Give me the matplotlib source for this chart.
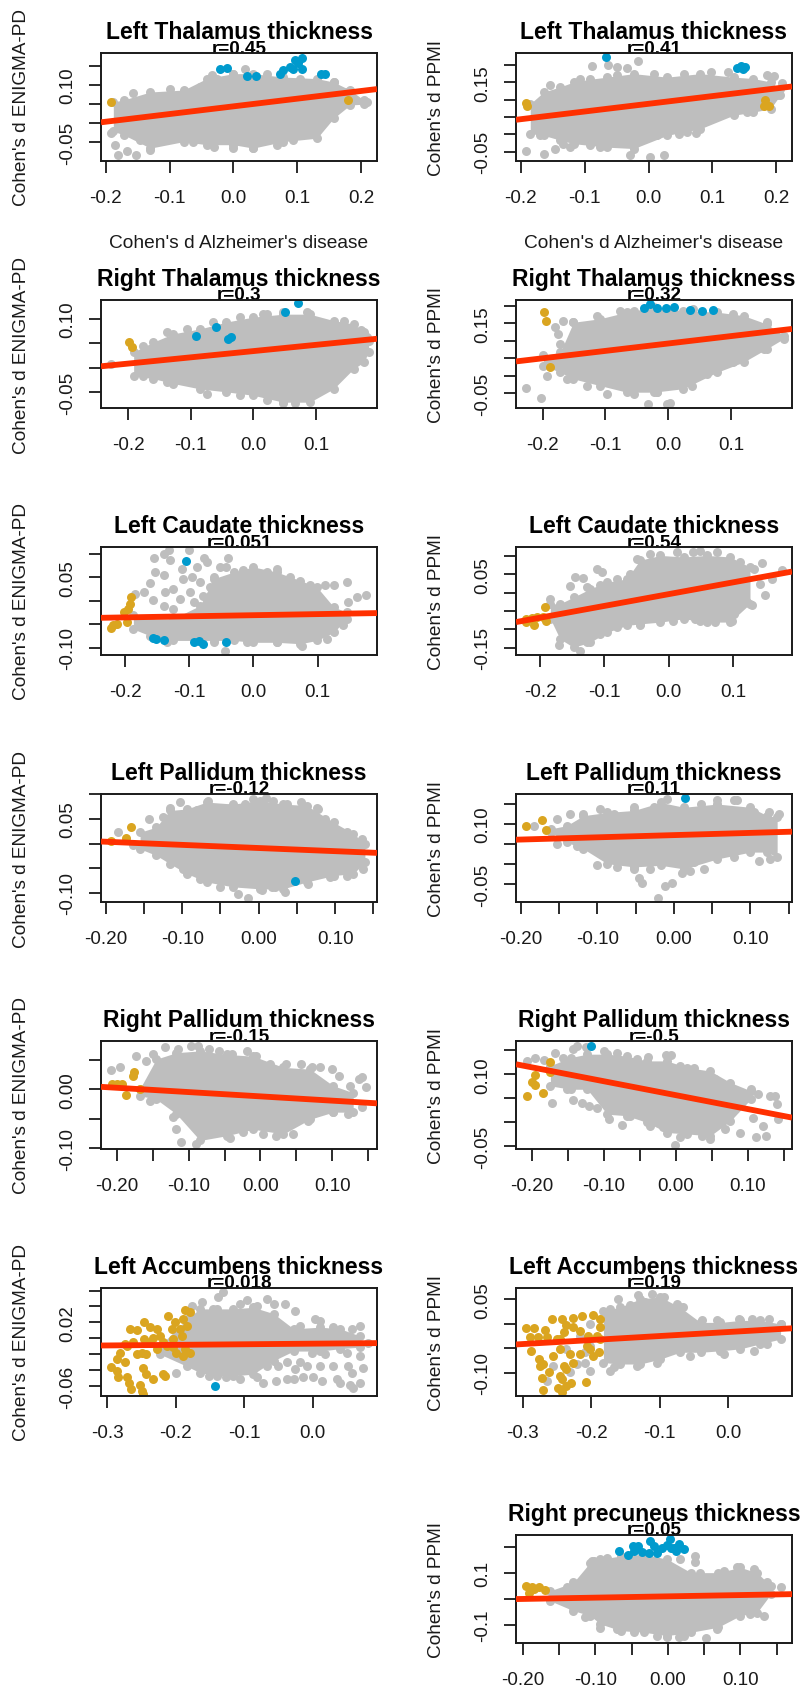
import matplotlib
matplotlib.use("Agg")
import matplotlib.pyplot as plt

# row 1 left: Left Thalamus, ENIGMA-PD
l1_cloud_x = [-.188, -.172, -.13, -.078, -.042, 0, .031, .078, .131, .157, .183, .205]
l1_cloud_top = [.056, .061, .082, .087, .117, .130, .130, .121, .117, .108, .087, .060]
l1_cloud_bot = [-.021, -.030, -.065, -.048, -.056, -.056, -.065, -.048, -.039, .013, .048, .050]
l1_gray_x = [-.185, -.181, -.167, -.153, -.034, .018, .209, -.191,
             -.157, -.099, -.052, -.026, 0, .052, .104, .157, .178, -.146, -.131, -.063, -.031, 0, .031, .068, .094, .131]
l1_gray_y = [-.057, -.084, -.072, -.084, .126, .143, .055, -.026,
             .078, .091, .096, .117, .130, .130, .117, .109, .083, -.043, -.070, -.048, -.061, -.065, -.065, -.057, -.043, -.017]
l1_blue_x = [-.021, -.010, .021, .036, .073, .078, .089, .097, .107, .107, .094, .138, .144, .102]
l1_blue_y = [.141, .144, .123, .123, .130, .139, .148, .165, .171, .143, .143, .130, .130, .157]
l1_gold_x = [-.191, .179]
l1_gold_y = [.055, .060]
l1_line = [.0026, .0896]

# row 1 right: Left Thalamus, PPMI
r1_cloud_x = [-.185, -.164, -.138, -.117, -.091, -.065, -.023, .029, .081, .133, .164, .191, .206]
r1_cloud_top = [.088, .122, .137, .151, .159, .165, .175, .165, .175, .165, .161, .151, .130]
r1_cloud_bot = [.002, -.003, -.017, -.027, -.032, -.037, -.041, -.003, .016, .055, .064, .074, .113]
r1_gray_x = [-.192, -.163, -.146, -.123, -.088, -.063, -.050, -.034, -.016, -.029, .003, .025, .047, .061, .074, .201, .209, .196,
             -.154, -.107, -.050, .008, .055, .097, .125, .185, -.170, -.133, -.076, -.023, .013, .060, .112, .154]
r1_gray_y = [-.047, -.056, -.041, -.037, .196, .201, .194, .191, .211, -.061, -.065, -.059, 0, .007, .005, .113, .149, .168,
             .141, .161, .170, .175, .175, .180, .180, .170, -.003, -.027, -.037, -.032, -.003, .021, .055, .064]
r1_blue_x = [-.067, .138, .144, .151, .148]
r1_blue_y = [.222, .192, .196, .194, .189]
r1_gold_x = [-.192, -.190, .180, .188, .183]
r1_gold_y = [.091, .082, .081, .081, .098]
r1_line = [.042, .138]

# row 2 left: Right Thalamus, ENIGMA-PD
l2_cloud_x = [-.191, -.160, -.128, -.085, -.043, 0, .048, .090, .128, .160, .176, .184]
l2_cloud_top = [.032, .052, .069, .079, .093, .103, .109, .109, .096, .089, .072, .055]
l2_cloud_bot = [-.016, -.022, -.032, -.043, -.049, -.056, -.070, -.070, -.043, -.002, .011, .032]
l2_gray_x = [-.227, .016, .048, .171, .181,
             -.176, -.138, -.106, -.064, -.021, .021, .085, .144, -.176, -.138, -.074, -.021, .021, .048, .066, .106]
l2_gray_y = [.008, .109, .114, .076, .062,
             .045, .072, .079, .093, .103, .109, .113, .096, -.016, -.029, -.053, -.056, -.066, -.071, -.071, -.029]
l2_blue_x = [.072, .051, -.060, -.040, -.035, -.091]
l2_blue_y = [.131, .114, .082, .059, .062, .064]
l2_gold_x = [-.198, -.194]
l2_gold_y = [.052, .043]
l2_line = [.003, .059]

# row 2 right: Right Thalamus, PPMI
r2_cloud_x = [-.199, -.172, -.151, -.109, -.066, -.023, .024, .078, .120, .157, .184]
r2_cloud_top = [.058, .067, .153, .163, .182, .196, .186, .182, .172, .148, .115]
r2_cloud_bot = [.029, .010, -.009, -.028, -.047, -.047, -.037, .010, .039, .077, .106]
r2_gray_x = [-.227, -.202, -.193, -.167, -.180, -.175, -.172, -.002, .003, -.033, .038, -.018,
             -.151, -.114, -.077, -.055, .040, .104, .157, -.162, -.130, -.098, -.055, -.018, .024, .062, .104, .152]
r2_gray_y = [-.035, -.063, 0, .158, .139, .120, .091, -.080, -.077, -.080, -.029, -.047,
             .153, .172, .186, .186, .191, .177, .153, -.009, -.028, -.051, -.051, -.047, -.018, .006, .039, .077]
r2_blue_x = [-.039, -.029, -.018, -.003, .009, .035, .054, .072]
r2_blue_y = [.193, .205, .193, .193, .196, .189, .186, .188]
r2_gold_x = [-.198, -.194, -.188]
r2_gold_y = [.182, .156, .025]
r2_line = [.041, .134]

# row 3 left: Left Caudate, ENIGMA-PD
l3_cloud_x = [-.187, -.161, -.125, -.083, -.062, -.031, 0, .036, .073, .099, .125, .145]
l3_cloud_top = [-.031, -.038, -.038, -.010, .047, .061, .072, .061, .043, .029, -.013, -.024]
l3_cloud_bot = [-.060, -.074, -.084, -.084, -.084, -.084, -.088, -.088, -.091, -.084, -.067, -.038]
l3_gray_x = [-.155, -.140, -.132, -.101, -.130, -.077, -.073, -.039, -.052, -.112, -.088, -.153, -.140, -.161, -.109, -.096,
             -.125, -.138, -.171, -.184, -.156, -.140, -.125, -.099, -.078, -.114, -.083, -.067, -.093, .112, .125, .145, .161, .176, .148, -.044,
             -.062, -.042, -.016, .021, .036, .057, .088, -.135, -.062, -.010, .036, .075, .114, .140]
l3_gray_y = [.091, .100, .107, .107, .086, .091, .082, .091, .072, .067, .072, .061, .054, .038, .047, .050,
             .026, .018, .018, .015, .001, -.010, -.017, .018, .011, .004, .040, .029, -.003, .033, .033, .040, .008, .013, -.003, -.106,
             .050, .072, .065, .061, .068, .050, .033, -.088, -.088, -.088, -.088, -.095, -.081, -.052]
l3_blue_x = [-.105, -.156, -.151, -.140, -.093, -.085, -.078, -.042]
l3_blue_y = [.085, -.079, -.081, -.084, -.088, -.086, -.091, -.088]
l3_gold_x = [-.190, -.193, -.195, -.201, -.218, -.213, -.197, -.222]
l3_gold_y = [.008, -.006, -.017, -.024, -.052, -.049, -.045, -.057]
l3_line = [-.036, -.026]

# row 3 right: Left Caudate, PPMI
r3_cloud_x = [-.184, -.169, -.148, -.122, -.096, -.065, -.045, -.013, .023, .059, .095, .126]
r3_cloud_top = [-.030, -.030, -.012, .011, .029, .038, .089, .102, .098, .102, .098, .070]
r3_cloud_bot = [-.071, -.126, -.149, -.135, -.108, -.089, -.085, -.080, -.071, -.080, -.080, -.030]
r3_gray_x = [-.112, -.104, -.146, -.133, -.154, -.170, -.138, -.184, .038, .049, .145, .160, .150, .129, .098, .072, .041, .176, .142,
             -.127, -.107, -.081, -.060, -.050, -.029, .012, .075, .111, .132, -.164, -.148, -.127, -.107, -.081, -.045, .007, .049, .101, .121]
r3_gray_y = [.064, .057, .043, .041, .018, -.142, -.158, -.018, .111, .114, .082, .038, -.007, -.033, -.076, -.080, -.071, .061, .025,
             .016, .020, .038, .052, .093, .107, .111, .111, .084, .066, -.089, -.126, -.135, -.112, -.094, -.089, -.076, -.076, -.058, -.026]
r3_blue_x = []
r3_blue_y = []
r3_gold_x = [-.221, -.213, -.205, -.210, -.195, -.192, -.190, -.222]
r3_gold_y = [-.080, -.069, -.067, -.089, -.067, -.039, -.076, -.071]
r3_line = [-.080, .058]

# row 4 left: Left Pallidum, ENIGMA-PD
l4_cloud_x = [-.155, -.134, -.116, -.094, -.068, -.033, .002, .032, .063, .098, .124, .139]
l4_cloud_top = [.023, .033, .067, .070, .084, .080, .087, .080, .077, .043, .020, -.001]
l4_cloud_bot = [-.011, -.024, -.041, -.061, -.078, -.088, -.092, -.092, -.078, -.065, -.061, -.038]
l4_gray_x = [-.184, -.164, -.143, -.125, -.066, -.007, .010, .076, -.014, -.027, .004, .034, .021,
             -.116, -.103, -.081, -.053, -.037, -.018, .019, .037, .056, .078, .087, .115, .135,
             -.099, -.077, -.051, -.018, .017, .065, .093, .115, .137]
l4_gray_y = [.024, -.004, .050, .053, .087, .090, .092, .073, -.111, -.102, -.095, -.098, -.088,
             .073, .084, .067, .070, .073, .080, .087, .080, .084, .070, .050, .023, .009,
             -.051, -.071, -.088, -.078, -.088, -.082, -.068, -.065, -.051]
l4_blue_x = [.048]
l4_blue_y = [-.076]
l4_gold_x = [-.167, -.173, -.193]
l4_gold_y = [.034, .011, .006]
l4_line = [.004, -.019]

# row 4 right: Left Pallidum, PPMI
r4_cloud_x = [-.161, -.140, -.118, -.087, -.052, -.017, .013, .057, .100, .122, .135]
r4_cloud_top = [.088, .096, .121, .129, .134, .154, .142, .150, .142, .121, .117]
r4_cloud_bot = [.080, .055, .038, .001, -.007, -.003, -.012, .013, .030, .030, .017]
r4_gray_x = [-.183, -.135, -.100, -.052, -.046, -.041, -.011, -.002, -.020, .011, .021, .040, .111, .137, .124, .078, -.009,
             -.153, -.118, -.096, -.078, -.052, -.026, .035, .057, .083, .105, -.153, -.126, -.074, -.031, .026, .078, .126]
r4_gray_y = [.095, .125, -.003, -.012, -.035, -.046, -.055, -.046, -.084, -.022, -.016, -.012, .007, .125, .129, .159, .163,
             .113, .125, .138, .125, .142, .142, .150, .159, .159, .129, .051, .046, -.007, -.012, .005, .017, .013]
r4_blue_x = [.014]
r4_blue_y = [.164]
r4_gold_x = [-.193, -.172, -.167]
r4_gold_y = [.096, .110, .086]
r4_line = [.061, .081]

# row 5 left: Right Pallidum, ENIGMA-PD
l5_cloud_x = [-.168, -.145, -.117, -.084, -.047, -.010, .032, .069, .101, .129]
l5_cloud_top = [0, .051, .062, .065, .059, .056, .037, .034, .006, -.006]
l5_cloud_bot = [-.011, -.017, -.042, -.087, -.079, -.068, -.076, -.051, -.039, -.039]
l5_gray_x = [-.208, -.196, -.173, -.149, -.133, -.115, -.087, -.057, -.019, .083, .100, .109, .124, .137, .141, .147, .094, .087, .122, .101, -.089, -.110, .045, -.122, .141,
             -.159, -.096, -.071, -.040, -.006, .013, .036, .057, .071, -.154, -.117, -.066, -.043, -.024, .004, .022, .066]
l5_gray_y = [.032, .037, .056, .059, .071, .069, .073, .065, .065, .037, .034, .023, .005, .017, .021, .004, .002, -.017, -.042, -.039, -.093, -.090, -.076, -.048, -.031,
             .048, .073, .069, .059, .056, .042, .042, .042, .037, -.020, -.068, -.071, -.082, -.073, -.076, -.079, -.054]
l5_blue_x = []
l5_blue_y = []
l5_gold_x = [-.176, -.177, -.207, -.200, -.193, -.187, -.168]
l5_gold_y = [.030, .023, .008, .008, .008, -.010, .001]
l5_line = [.004, -.024]

# row 5 right: Right Pallidum, PPMI
r5_cloud_x = [-.174, -.146, -.123, -.095, -.068, -.040, -.012, .016, .048, .076, .104]
r5_cloud_top = [.118, .135, .142, .142, .138, .128, .128, .114, .107, .083, .066]
r5_cloud_bot = [.076, .069, .069, .017, .014, 0, -.021, -.024, -.028, .003, .048]
r5_gray_x = [-.207, -.195, -.183, -.167, -.142, -.137, -.172, -.142, -.130, -.121, -.075, -.0005, -.038, -.014,
             .088, .104, .115, .131, .138, .141, .142, .111, .125, .122, .108, .090, .069,
             -.156, -.125, -.100, -.081, -.054, -.007, .006, .025, .055, .074,
             -.151, -.109, -.093, -.063, -.035, -.017, .006, .037, .048]
r5_gray_y = [.128, .133, .129, .144, .152, .160, .041, .046, .040, .035, -.006, -.046, .137, .140,
             .062, .069, .059, .055, .055, .038, .007, -.031, -.028, -.007, .010, -.021, -.014,
             .135, .156, .149, .145, .131, .140, .118, .114, .090, .076,
             .069, .031, .007, .014, -.007, -.010, -.031, -.028, -.035]
r5_blue_x = [-.117]
r5_blue_y = [.159]
r5_gold_x = [-.174, -.195, -.199, -.195, -.184, -.206, -.174]
r5_gold_y = [.126, .098, .084, .077, .061, .054, .104]
r5_line = [.121, .010]

# row 6 left: Left Accumbens, ENIGMA-PD
l6_cloud_x = [-.223, -.184, -.165, -.140, -.116, -.087, -.057, -.028, .011, .040, .069]
l6_cloud_top = [-.009, .024, .037, .037, .037, .039, .031, .012, .014, .012, .003]
l6_cloud_bot = [-.020, -.035, -.043, -.047, -.047, -.045, -.028, -.016, -.016, -.013, -.011]
l6_gray_x = [-.162, -.131, -.138, -.096, -.067, -.040, -.026, .003, .011, .069, .081, -.082, -.072, -.053, -.038, -.026, -.028, -.014, .001, .011,
             .018, .030, .013, .035, .040, .052, .057, .055, .059, .069, .074, .069, .050, -.019, -.038, -.009, -.050, -.001, -.199, -.152,
             -.177, -.145, -.106, -.082, -.057, -.019, .030, .057, -.126, -.106, -.067]
l6_gray_y = [.046, .058, .052, .048, .050, .043, .034, .024, .022, .015, -.006, -.049, -.056, -.053, -.051, -.039, -.051, -.049, -.049, -.035,
             -.020, -.035, -.053, -.051, -.056, -.035, -.043, -.058, -.062, -.056, -.037, -.022, -.018, -.030, -.030, -.035, -.035, -.018, -.043, -.047,
             .041, .037, .043, .041, .043, .016, .014, .012, -.049, -.051, -.035]
l6_blue_x = [-.142]
l6_blue_y = [-.060]
l6_gold_x = [-.295, -.286, -.282, -.274, -.267, -.257, -.247, -.238, -.228, -.212, -.201, -.206, -.187, -.179, -.189, -.184, -.191,
             -.204, -.218, -.233, -.247, -.262, -.272, -.250, -.243, -.257, -.228, -.213, -.199, -.189, -.179, -.204, -.286, -.274,
             -.248, -.243, -.233, -.218, -.216, -.272, -.269, -.284, -.266, -.253, -.250, -.248, -.238, -.223, -.194, -.187]
l6_gold_y = [-.036, -.026, -.018, -.007, .012, .010, .020, .014, .012, .028, .020, .012, .035, .033, .024, .016, .003,
             -.001, -.005, .001, -.001, -.005, -.009, -.018, -.020, -.020, -.013, -.009, -.018, -.022, -.018, -.011, -.041, -.030,
             -.037, -.045, -.051, -.045, -.047, -.048, -.056, -.049, -.063, -.059, -.066, -.070, -.005, .003, .012, -.013]
l6_line = [-.009, -.006]

# row 6 right: Left Accumbens, PPMI
r6_cloud_x = [-.182, -.158, -.128, -.099, -.070, -.040, -.011, .018, .047, .077]
r6_cloud_top = [.027, .034, .051, .055, .034, .003, .003, .007, .007, 0]
r6_cloud_bot = [-.079, -.082, -.082, -.072, -.058, -.058, -.055, -.051, -.041, -.031]
r6_gray_x = [-.160, -.132, -.111, -.065, -.172, -.201, -.231, -.255, -.265, -.221, -.209, -.209, -.201, -.216, -.236, -.201,
             -.172, -.143, -.121, -.094, -.075, -.038, -.016, .016, .035, .060, .077, -.167, -.133, -.104, -.055, -.006, .038, .057]
r6_gray_y = [.051, .058, .062, .034, -.096, -.096, -.099, -.086, -.116, -.082, -.079, -.058, 0, -.024, -.051, -.045,
             .031, .038, .045, .055, .041, .007, .007, .010, .010, .010, 0, -.089, -.086, -.079, -.065, -.062, -.055, -.041]
r6_blue_x = []
r6_blue_y = []
r6_gold_x = [-.295, -.283, -.267, -.289, -.277, -.265, -.250, -.240, -.257, -.242, -.226, -.213, -.197, -.187, -.187, -.192, -.226, -.236, -.216, -.204,
             -.288, -.276, -.270, -.255, -.245, -.231, -.216, -.201, -.189, -.240, -.236, -.275, -.272, -.262, -.245, -.243, -.249, -.230, -.236, -.271,
             -.243, -.207, -.226, -.206, -.245, -.197, -.187]
r6_gold_y = [-.009, -.008, -.012, -.027, -.027, -.027, -.031, -.017, .010, .009, .012, .017, .018, .010, -.007, -.024, -.007, -.003, -.014, -.024,
             -.055, -.072, -.082, -.065, -.051, -.062, -.062, -.051, -.058, -.086, -.092, -.086, -.110, -.098, -.106, -.113, -.130, -.121, -.127, -.135,
             -.140, -.118, -.079, -.045, -.031, -.065, -.031]
r6_line = [-.042, -.009]

# row 7 right: Right precuneus, PPMI
r7_cloud_x = [-.162, -.130, -.107, -.093, -.065, -.033, -.001, .032, .069, .100, .123, .142]
r7_cloud_top = [.031, .063, .140, .153, .165, .172, .153, .101, .101, .121, .101, .050]
r7_cloud_bot = [-.008, -.046, -.065, -.097, -.123, -.129, -.142, -.129, -.110, -.065, -.053, .018]
r7_gray_x = [-.104, .037, .037, .052, .156, -.093, .133, -.001, .015, -.114, .119,
             -.139, -.116, -.102, -.084, -.052, .017, .045, .077, .096, .137, -.130, -.070, -.047, -.015, .022, .068, .114]
r7_gray_y = [.146, .142, .165, -.153, .047, -.114, -.068, -.149, -.149, -.072, .114,
             .044, .076, .146, .159, .165, .153, .101, .108, .121, .063, -.033, -.117, -.129, -.142, -.142, -.117, -.059]
r7_blue_x = [-.067, -.055, -.048, -.041, -.047, -.035, -.024, -.019, -.026, -.015, -.008, -.001, .003, .004, .011, .015, .022, .008]
r7_blue_y = [.183, .169, .204, .204, .185, .182, .223, .204, .178, .178, .197, .206, .229, .197, .185, .210, .191, .197]
r7_gold_x = [-.195, -.187, -.191, -.177, -.169, -.185]
r7_gold_y = [.050, .044, .024, .044, .035, .037]
r7_line = [-.001, .018]

GRAY = "#BEBEBE"
GOLD = "#DAA520"
BLUE = "#009ACD"
RED = "#FF3000"
INK = "#1a1a1a"
DOT = 42

plt.rcParams['font.family'] = ['Liberation Sans', 'DejaVu Sans']

W, H = 800, 1690
fig = plt.figure(figsize=(W / 100, H / 100), dpi=100)

ROW_TOP = [54, 301, 548, 795, 1042, 1289, 1536]
COL_LEFT = [101, 516]
BOX_W, BOX_H = 276, 108
YLAB_X = [22, 436]
YLAB = ["Cohen's d ENIGMA-PD", "Cohen's d PPMI"]


def draw_panel(row, col, title, rtext, xlim, ylim, xticks, xlabels, yticks, ylabels,
               cloud_x, cloud_top, cloud_bot, gray_x, gray_y, blue_x, blue_y, gold_x, gold_y, line_y):
    top = ROW_TOP[row]
    left = COL_LEFT[col]
    ax = fig.add_axes([left / W, 1 - (top + BOX_H) / H, BOX_W / W, BOX_H / H])
    ax.set_facecolor("white")

    # the dense part of the cloud is read as an outline, loose dots one by one
    ax.fill_between(cloud_x, cloud_bot, cloud_top, color=GRAY, lw=0, zorder=1)
    ax.scatter(cloud_x, cloud_top, s=DOT, color=GRAY, lw=0, zorder=1)
    ax.scatter(cloud_x, cloud_bot, s=DOT, color=GRAY, lw=0, zorder=1)
    ax.scatter(gray_x, gray_y, s=DOT, color=GRAY, lw=0, zorder=1)
    ax.scatter(gold_x, gold_y, s=DOT, color=GOLD, lw=0, zorder=2)
    ax.scatter(blue_x, blue_y, s=DOT, color=BLUE, lw=0, zorder=2)
    ax.plot(xlim, line_y, color=RED, lw=4.2, solid_capstyle="butt", zorder=3)

    ax.set_xlim(xlim)
    ax.set_ylim(ylim)
    ax.set_xticks(xticks, xlabels)
    ax.set_yticks(yticks, ylabels)
    ax.tick_params(axis="x", length=8.4, width=1.3, color=INK, labelsize=13.6, labelcolor=INK, pad=12)
    ax.tick_params(axis="y", length=8.4, width=1.3, color=INK, labelsize=13.6, labelcolor=INK, pad=9.5)
    for lab in ax.get_yticklabels():
        lab.set_rotation(90)
        lab.set_va("center")
    for s in ax.spines.values():
        s.set_linewidth(1.4)
        s.set_color(INK)

    cx = (left + BOX_W / 2) / W
    fig.text(cx, 1 - (top - 15) / H, title, fontsize=16.5, fontweight="bold", color="black",
             ha="center", va="baseline")
    # sits behind the axes so the box cuts its lower edge, like the original
    fig.text(cx, 1 - (top - 0.5) / H, rtext, fontsize=13.6, fontweight="bold", color="black",
             ha="center", va="baseline", zorder=-1)
    fig.text(YLAB_X[col] / W, 1 - (top + BOX_H / 2) / H, YLAB[col], fontsize=13.7, color=INK,
             rotation=90, ha="center", va="center")


X2 = [-0.2, -0.1, 0.0, 0.1, 0.2]
X2L = ["-0.2", "-0.1", "0.0", "0.1", "0.2"]
X1 = [-0.2, -0.1, 0.0, 0.1]
X1L = ["-0.2", "-0.1", "0.0", "0.1"]
X5 = [-.2, -.15, -.1, -.05, 0, .05, .1, .15]
X5L = ["-0.20", "", "-0.10", "", "0.00", "", "0.10", ""]
X3 = [-0.3, -0.2, -0.1, 0.0]
X3L = ["-0.3", "-0.2", "-0.1", "0.0"]

draw_panel(0, 0, "Left Thalamus thickness", "r=0.45", (-.2073, .225), (-.0987, .184), X2, X2L,
           [.15, .10, .05, 0, -.05], ["", "0.10", "", "", "-0.05"],
           l1_cloud_x, l1_cloud_top, l1_cloud_bot, l1_gray_x, l1_gray_y, l1_blue_x, l1_blue_y, l1_gold_x, l1_gold_y, l1_line)
draw_panel(0, 1, "Left Thalamus thickness", "r=0.41", (-.2073, .2245), (-.0769, .2346), X2, X2L,
           [.20, .15, .10, .05, 0, -.05], ["", "0.15", "", "", "", "-0.05"],
           r1_cloud_x, r1_cloud_top, r1_cloud_bot, r1_gray_x, r1_gray_y, r1_blue_x, r1_blue_y, r1_gold_x, r1_gold_y, r1_line)
draw_panel(1, 0, "Right Thalamus thickness", "r=0.3", (-.2431, .1973), (-.0818, .1378), X1, X1L,
           [.10, .05, 0, -.05], ["0.10", "", "", "-0.05"],
           l2_cloud_x, l2_cloud_top, l2_cloud_bot, l2_gray_x, l2_gray_y, l2_blue_x, l2_blue_y, l2_gold_x, l2_gold_y, l2_line)
draw_panel(1, 1, "Right Thalamus thickness", "r=0.32", (-.2426, .1973), (-.0922, .2167), X1, X1L,
           [.20, .15, .10, .05, 0, -.05], ["", "0.15", "", "", "", "-0.05"],
           r2_cloud_x, r2_cloud_top, r2_cloud_bot, r2_gray_x, r2_gray_y, r2_blue_x, r2_blue_y, r2_gold_x, r2_gold_y, r2_line)
draw_panel(2, 0, "Left Caudate thickness", "r=0.051", (-.2374, .1924), (-.1149, .1142), X1, X1L,
           [.10, .05, 0, -.05, -.10], ["", "0.05", "", "", "-0.10"],
           l3_cloud_x, l3_cloud_top, l3_cloud_bot, l3_gray_x, l3_gray_y, l3_blue_x, l3_blue_y, l3_gold_x, l3_gold_y, l3_line)
draw_panel(2, 1, "Left Caudate thickness", "r=0.54", (-.2373, .1912), (-.1699, .1251), X1, X1L,
           [.10, .05, 0, -.05, -.10, -.15], ["", "0.05", "", "", "", "-0.15"],
           r3_cloud_x, r3_cloud_top, r3_cloud_bot, r3_gray_x, r3_gray_y, r3_blue_x, r3_blue_y, r3_gold_x, r3_gold_y, r3_line)
draw_panel(3, 0, "Left Pallidum thickness", "r=-0.12", (-.2061, .1548), (-.1186, .1004), X5, X5L,
           [.10, .05, 0, -.05, -.10], ["", "0.05", "", "", "-0.10"],
           l4_cloud_x, l4_cloud_top, l4_cloud_bot, l4_gray_x, l4_gray_y, l4_blue_x, l4_blue_y, l4_gold_x, l4_gold_y, l4_line)
draw_panel(3, 1, "Left Pallidum thickness", "r=0.11", (-.2061, .1544), (-.0946, .1751), X5, X5L,
           [.15, .10, .05, 0, -.05], ["", "0.10", "", "", "-0.05"],
           r4_cloud_x, r4_cloud_top, r4_cloud_bot, r4_gray_x, r4_gray_y, r4_blue_x, r4_blue_y, r4_gold_x, r4_gold_y, r4_line)
draw_panel(4, 0, "Right Pallidum thickness", "r=-0.15", (-.2218, .1621), (-.1015, .0818), X5, X5L,
           [.05, 0, -.05, -.10], ["", "0.00", "", "-0.10"],
           l5_cloud_x, l5_cloud_top, l5_cloud_bot, l5_gray_x, l5_gray_y, l5_blue_x, l5_blue_y, l5_gold_x, l5_gold_y, l5_line)
draw_panel(4, 1, "Right Pallidum thickness", "r=-0.5", (-.2218, .1616), (-.0553, .1694), X5, X5L,
           [.15, .10, .05, 0, -.05], ["", "0.10", "", "", "-0.05"],
           r5_cloud_x, r5_cloud_top, r5_cloud_bot, r5_gray_x, r5_gray_y, r5_blue_x, r5_blue_y, r5_gold_x, r5_gold_y, r5_line)
draw_panel(5, 0, "Left Accumbens thickness", "r=0.018", (-.3093, .094), (-.0724, .0632), X3, X3L,
           [.06, .04, .02, 0, -.02, -.04, -.06], ["", "", "0.02", "", "", "", "-0.06"],
           l6_cloud_x, l6_cloud_top, l6_cloud_bot, l6_gray_x, l6_gray_y, l6_blue_x, l6_blue_y, l6_gold_x, l6_gold_y, l6_line)
draw_panel(5, 1, "Left Accumbens thickness", "r=0.19", (-.3098, .0937), (-.1473, .0733), X3, X3L,
           [.05, 0, -.05, -.10], ["0.05", "", "", "-0.10"],
           r6_cloud_x, r6_cloud_top, r6_cloud_bot, r6_gray_x, r6_gray_y, r6_blue_x, r6_blue_y, r6_gold_x, r6_gold_y, r6_line)
draw_panel(6, 1, "Right precuneus thickness", "r=0.05", (-.2092, .1712), (-.1705, .2462), X5, X5L,
           [.2, .1, 0, -.1], ["", "0.1", "", "-0.1"],
           r7_cloud_x, r7_cloud_top, r7_cloud_bot, r7_gray_x, r7_gray_y, r7_blue_x, r7_blue_y, r7_gold_x, r7_gold_y, r7_line)

for cx in (239, 654):
    fig.text(cx / W, 1 - 244 / H, "Cohen's d Alzheimer's disease", fontsize=13.8, color=INK, ha="center", va="center")

fig.savefig("out.png", dpi=100)
